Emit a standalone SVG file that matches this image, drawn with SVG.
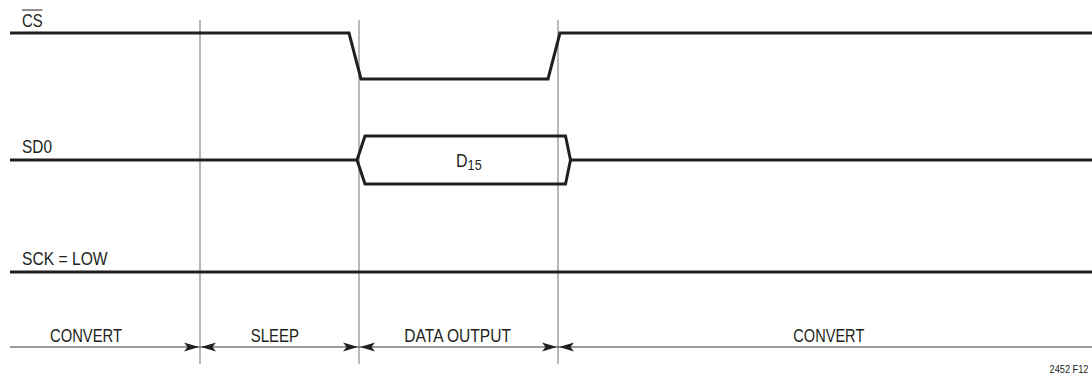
<svg xmlns="http://www.w3.org/2000/svg" width="1092" height="377" viewBox="0 0 1092 377">
<style>
.sig{fill:none;stroke:#231f20;stroke-width:3;stroke-linejoin:miter}
.grid{stroke:#8a8a8a;stroke-width:1.2}
.dim{stroke:#3a3a3a;stroke-width:1.2}
.lbl{font-family:"Liberation Sans Narrow","Liberation Sans",Arial,sans-serif;font-size:19px;fill:#231f20}
.sub{font-size:15px}
.small{font-family:"Liberation Sans Narrow","Liberation Sans",Arial,sans-serif;font-size:10.5px;fill:#231f20}
.ah{fill:#231f20}
</style>
<defs>
<polygon id="arR" points="0,0 -15,-4.4 -11.5,0 -15,4.4"/>
<polygon id="arL" points="0,0 15,-4.4 11.5,0 15,4.4"/>
</defs>
<rect width="1092" height="377" fill="#ffffff"/>
<g id="gridlines">
<line class="grid" x1="200" y1="20" x2="200" y2="364"/>
<line class="grid" x1="359" y1="20" x2="359" y2="364"/>
<line class="grid" x1="558" y1="20" x2="558" y2="364"/>
</g>
<g id="cs">
<text class="lbl" x="22" y="26.5" textLength="20.6" lengthAdjust="spacingAndGlyphs">CS</text>
<line x1="22" y1="10" x2="42.5" y2="10" stroke="#231f20" stroke-width="1"/>
<polyline class="sig" points="10,33 349,33 361,79 548,79 560,33 1092,33"/>
</g>
<g id="sdo">
<text class="lbl" x="22" y="152.7" textLength="30" lengthAdjust="spacingAndGlyphs">SD0</text>
<polyline class="sig" points="10,160 357,160"/>
<polygon class="sig" points="357,160 365,136 565.5,136 570.5,160 565.5,184 365,184"/>
<polyline class="sig" points="570.5,160 1092,160"/>
<text class="lbl" x="456" y="166.7" textLength="25.7" lengthAdjust="spacingAndGlyphs">D<tspan class="sub" dy="3.3">15</tspan></text>
</g>
<g id="sck">
<text class="lbl" x="22" y="265" textLength="85.6" lengthAdjust="spacingAndGlyphs">SCK = LOW</text>
<line class="sig" x1="10" y1="272" x2="1092" y2="272"/>
</g>
<g id="phases">
<text class="lbl" x="50" y="341.7" textLength="72" lengthAdjust="spacingAndGlyphs">CONVERT</text>
<text class="lbl" x="250.7" y="341.7" textLength="48.3" lengthAdjust="spacingAndGlyphs">SLEEP</text>
<text class="lbl" x="404.3" y="341.7" textLength="106.7" lengthAdjust="spacingAndGlyphs">DATA OUTPUT</text>
<text class="lbl" x="793.3" y="341.7" textLength="71" lengthAdjust="spacingAndGlyphs">CONVERT</text>
</g>
<g id="connectors">
<line class="dim" x1="10" y1="347" x2="1092" y2="347"/>
<use href="#arR" class="ah" x="199" y="347"/>
<use href="#arL" class="ah" x="201" y="347"/>
<use href="#arR" class="ah" x="358" y="347"/>
<use href="#arL" class="ah" x="360" y="347"/>
<use href="#arR" class="ah" x="557" y="347"/>
<use href="#arL" class="ah" x="559" y="347"/>
</g>
<text class="small" x="1049.5" y="372.5" textLength="39" lengthAdjust="spacingAndGlyphs">2452 F12</text>
</svg>
